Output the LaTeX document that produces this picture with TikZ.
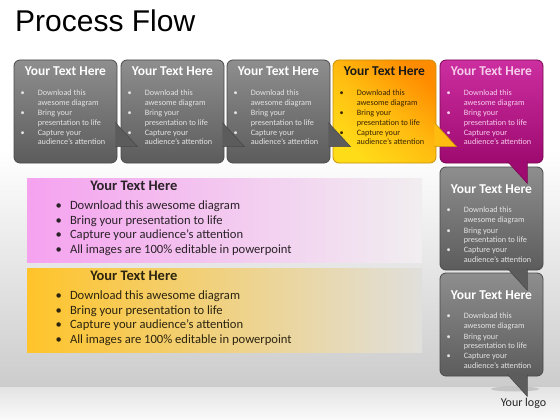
\documentclass[tikz,border=0pt]{standalone}
\usepackage{fontspec}
\setmainfont{Carlito}
\newfontfamily\arialf{Liberation Sans}
\usetikzlibrary{calc}

\definecolor{gA}{HTML}{8E8E8E}
\definecolor{gB}{HTML}{5C5C5C}
\definecolor{gE}{HTML}{4A4A4A}
\definecolor{gT}{HTML}{E4E4E4}
\definecolor{oA}{HTML}{FF8C00}
\definecolor{oM}{HTML}{FFBC10}
\definecolor{oB}{HTML}{FFDC18}
\definecolor{oE}{HTML}{C8900A}
\definecolor{oT}{HTML}{3A2600}
\definecolor{mA}{HTML}{CC2EA0}
\definecolor{mB}{HTML}{9E0A70}
\definecolor{mE}{HTML}{78084F}
\definecolor{mT}{HTML}{F6CDEB}
\definecolor{pkA}{HTML}{F5A2EF}
\definecolor{pkM}{HTML}{F9D8F5}
\definecolor{pkB}{HTML}{F1EEF0}
\definecolor{yA}{HTML}{FFC42A}
\definecolor{yM}{HTML}{F4DC98}
\definecolor{yB}{HTML}{E0DFDC}
\definecolor{bkT}{HTML}{2A2228}
\definecolor{ywT}{HTML}{2C2410}

\tikzset{
  card/.style={rounded corners=6pt, minimum width=103pt, minimum height=103pt,
    inner sep=0pt, line width=0.8pt},
  graycard/.style={card, draw=gE, top color=gA, bottom color=gB},
  orangecard/.style={card, draw=oE, top color=oA, bottom color=oB, middle color=oM, shading angle=-40},
  magcard/.style={card, draw=mE, top color=mA, bottom color=mB},
  bar/.style={minimum width=395pt, minimum height=84pt, inner sep=0pt},
  ttl/.style={font=\bfseries\fontsize{13.5}{16}\selectfont, inner sep=0pt, anchor=base},
  bttl/.style={font=\bfseries\fontsize{14.5}{17}\selectfont, inner sep=0pt, anchor=base},
  ln/.style={font=\fontsize{8.2}{9.8}\selectfont, inner sep=0pt, anchor=base west},
  bul/.style={font=\fontsize{8.2}{9.8}\selectfont, inner sep=0pt, anchor=base},
  bln/.style={font=\fontsize{12.6}{15}\selectfont, inner sep=0pt, anchor=base west},
  bbul/.style={font=\fontsize{12.6}{15}\selectfont, inner sep=0pt, anchor=base},
}

% #1 card name, #2 title colour, #3 text colour, #4 vertical shift
\newcommand\cardtext[4]{%
  \node[ttl,text=#2] (#1-t) at ($(#1.north)+(0,16.4+#4)$) {Your Text Here};
  \node[ln,text=#3] (#1-l1) at ($(#1.north west)+(24,35.7+#4)$) {Download this};
  \node[ln,text=#3] (#1-l2) at ($(#1.north west)+(24,45.6+#4)$) {awesome diagram};
  \node[ln,text=#3] (#1-l3) at ($(#1.north west)+(24,55.9+#4)$) {Bring your};
  \node[ln,text=#3] (#1-l4) at ($(#1.north west)+(24,65.6+#4)$) {presentation to life};
  \node[ln,text=#3] (#1-l5) at ($(#1.north west)+(24,75.5+#4)$) {Capture your};
  \node[ln,text=#3] (#1-l6) at ($(#1.north west)+(24,85.0+#4)$) {audience’s attention};
  \node[bul,text=#3] (#1-b1) at ($(#1.north west)+(9,35.7+#4)$) {\textbullet};
  \node[bul,text=#3] (#1-b2) at ($(#1.north west)+(9,55.9+#4)$) {\textbullet};
  \node[bul,text=#3] (#1-b3) at ($(#1.north west)+(9,75.5+#4)$) {\textbullet};
}
% #1 bar name, #2 title colour, #3 text colour
\newcommand\bartext[3]{%
  \node[bttl,text=#2] (#1-t) at ($(#1.north west)+(107,12.5)$) {Your Text Here};
  \node[bln,text=#3] (#1-l1) at ($(#1.north west)+(43,31.5)$) {Download this awesome diagram};
  \node[bln,text=#3] (#1-l2) at ($(#1.north west)+(43,46.2)$) {Bring your presentation to life};
  \node[bln,text=#3] (#1-l3) at ($(#1.north west)+(43,60.9)$) {Capture your audience’s attention};
  \node[bln,text=#3] (#1-l4) at ($(#1.north west)+(43,75.6)$) {All images are 100\% editable in powerpoint};
  \node[bbul,text=#3] (#1-b1) at ($(#1.north west)+(32,31.5)$) {\textbullet};
  \node[bbul,text=#3] (#1-b2) at ($(#1.north west)+(32,46.2)$) {\textbullet};
  \node[bbul,text=#3] (#1-b3) at ($(#1.north west)+(32,60.9)$) {\textbullet};
  \node[bbul,text=#3] (#1-b4) at ($(#1.north west)+(32,75.6)$) {\textbullet};
}

\begin{document}
\begin{tikzpicture}[x=1pt,y=-1pt]
\useasboundingbox (0,0) rectangle (560,420);
% background
\fill[white] (0,0) rectangle (560,420);
\shade[top color=white, bottom color=black!20] (0,150) rectangle (560,387);
\shade[top color=black!11, bottom color=black!2] (0,387) rectangle (560,420);
\fill[black!45, opacity=0.35] (515,389) ellipse (24pt and 2.5pt);

% title
\node[anchor=base west, inner sep=0pt, font=\arialf\fontsize{30}{36}\selectfont] (title) at (15,32) {Process Flow};

% bars
\node[bar, left color=pkA, middle color=pkM, right color=pkB] (pbar) at (224.5,220) {};
\node[bar, left color=yA, middle color=yM, right color=yB] (ybar) at (224.5,310) {};

% cards
\node[graycard] (b1) at (65.5,111.5) {};
\node[graycard] (b2) at (172.5,111.5) {};
\node[graycard] (b3) at (278.5,111.5) {};
\node[orangecard] (b4) at (384.5,111.5) {};
\node[magcard] (b5) at (491.5,111.5) {};
\node[graycard] (b6) at (491.5,218.5) {};
\node[graycard] (b7) at (491.5,324.5) {};

% tails pointing right
\foreach \b/\f/\e in {b1/gB/gE, b2/gB/gE, b3/gB/gE, b4/oM/oE}{
  \coordinate (\b-p) at ($(\b.north east)+(-2,63)$);
  \coordinate (\b-q) at ($(\b.north east)+(20,87)$);
  \coordinate (\b-r) at ($(\b.north east)+(-2,87)$);
  \fill[\f] (\b-p) -- (\b-q) -- (\b-r) -- cycle;
  \draw[\e, line width=0.6pt] (\b-p) -- (\b-q) -- (\b-r);
}
% tails pointing down
\foreach \b/\f/\e in {b5/mB/mE, b6/gB/gE, b7/gB/gE}{
  \coordinate (\b-p) at ($(\b.south east)+(-36,-2)$);
  \coordinate (\b-q) at ($(\b.south east)+(-16,20)$);
  \coordinate (\b-r) at ($(\b.south east)+(-16,-2)$);
  \fill[\f] (\b-p) -- (\b-q) -- (\b-r) -- cycle;
  \draw[\e, line width=0.6pt] (\b-p) -- (\b-q) -- (\b-r);
}

% card texts
\cardtext{b1}{white}{gT}{0}
\cardtext{b2}{white}{gT}{0}
\cardtext{b3}{white}{gT}{0}
\cardtext{b4}{black!90}{oT}{0}
\cardtext{b5}{mT}{mT}{0}
\cardtext{b6}{white}{gT}{10.5}
\cardtext{b7}{white}{gT}{10.5}

% bar texts
\bartext{pbar}{bkT}{bkT}
\bartext{ybar}{ywT}{ywT}

% logo
\node[inner sep=0pt, font=\fontsize{12}{14}\selectfont, text=black!85] (logo) at (523.5,403) {Your logo};
\end{tikzpicture}
\end{document}
